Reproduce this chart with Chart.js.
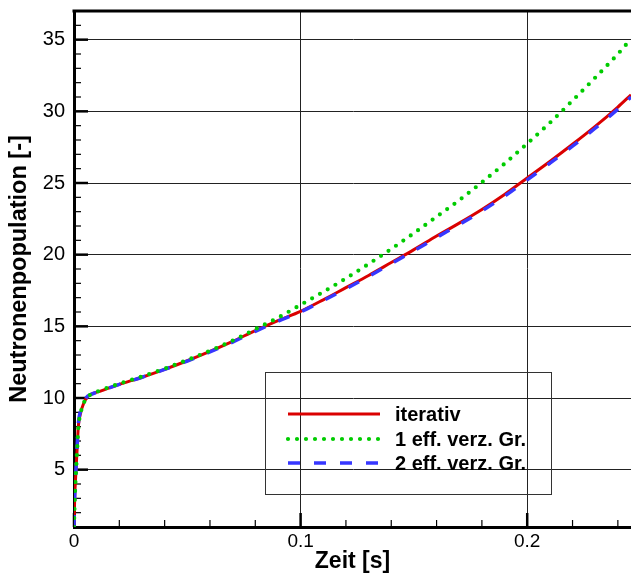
<!DOCTYPE html>
<html>
<head>
<meta charset="utf-8">
<script src="https://cdn.jsdelivr.net/npm/chart.js@4.4.1/dist/chart.umd.min.js"></script>
<style>
  html, body { margin: 0; padding: 0; background: #fff; }
  canvas { display: block; }
</style>
</head>
<body>
<canvas id="chart" width="631" height="573"></canvas>
<script>
// Zeitpunkte [s]
const zeit = [0, 0.0003, 0.0009, 0.0014, 0.0019, 0.003, 0.0042, 0.0055, 0.0075, 0.012,
  0.02, 0.03, 0.04, 0.05, 0.06, 0.07, 0.08, 0.09, 0.1, 0.11, 0.12, 0.13, 0.14, 0.15,
  0.16, 0.17, 0.18, 0.19, 0.2, 0.21, 0.22, 0.23, 0.24, 0.2458]

// Neutronenpopulation je Verfahren
const iterativ = [1.0, 3.0, 5.0, 6.5, 8.0, 9.0, 9.6, 10.0, 10.25, 10.5,
  10.95, 11.45, 12.0, 12.6, 13.25, 13.95, 14.7, 15.4, 16.05, 16.85, 17.7, 18.55, 19.45, 20.35,
  21.3, 22.2, 23.15, 24.2, 25.35, 26.5, 27.7, 28.95, 30.3, 31.15]
const eineGruppe = [1.0, 2.8, 4.9, 6.4, 7.9, 9.0, 9.6, 10.0, 10.25, 10.55,
  11.0, 11.5, 12.05, 12.65, 13.3, 14.0, 14.8, 15.6, 16.5, 17.4, 18.35, 19.35, 20.4, 21.5,
  22.65, 23.8, 25.05, 26.35, 27.75, 29.2, 30.75, 32.35, 34.0, 35.05]
const zweiGruppen = [1.0, 3.1, 5.1, 6.7, 8.2, 9.15, 9.7, 10.05, 10.25, 10.5,
  10.95, 11.45, 12.0, 12.58, 13.22, 13.9, 14.65, 15.35, 16.0, 16.8, 17.62, 18.48, 19.37, 20.27,
  21.2, 22.1, 23.05, 24.08, 25.22, 26.38, 27.57, 28.82, 30.15, 31.0]

const legendLabels = ['iterativ', '1 eff. verz. Gr.', '2 eff. verz. Gr.']

const xTicks = [0, 0.02, 0.04, 0.06, 0.08, 0.1, 0.12, 0.14, 0.16, 0.18, 0.2, 0.22, 0.24]
const yTicks = []
for (let v = 2; v <= 36; v++) yTicks.push(v)

const FONT = "'Liberation Sans', Arial, Helvetica, sans-serif"

function toPoints(ys) {
    return zeit.map((t, i) => ({ x: t, y: ys[i] }))
}
function isMajorX(v) { return Math.round(v * 100) % 10 === 0 }
function isMajorY(v) { return v % 5 === 0 }

// inward tick marks, top frame line and the boxed legend
const frame = {
    id: 'frame',
    beforeDatasetsDraw(chart) {
        const ctx = chart.ctx
        const a = chart.chartArea
        const xs = chart.scales.x, ys = chart.scales.y
        ctx.save()
        ctx.strokeStyle = '#000'
        ctx.lineCap = 'butt'
        xs.ticks.forEach(t => {
            const px = xs.getPixelForValue(t.value)
            const major = isMajorX(t.value)
            ctx.lineWidth = major ? 2.5 : 1.2
            ctx.beginPath()
            ctx.moveTo(px, a.bottom)
            ctx.lineTo(px, a.bottom - (major ? 14 : 7))
            ctx.stroke()
        })
        ys.ticks.forEach(t => {
            const py = ys.getPixelForValue(t.value)
            const major = isMajorY(t.value)
            ctx.lineWidth = major ? 2.5 : 1.2
            ctx.beginPath()
            ctx.moveTo(a.left, py)
            ctx.lineTo(a.left + (major ? 14 : 7), py)
            ctx.stroke()
        })
        ctx.lineWidth = 3
        ctx.beginPath()
        ctx.moveTo(a.left - 1.5, a.top)
        ctx.lineTo(a.right, a.top)
        ctx.stroke()
        ctx.restore()
    },
    afterDatasetsDraw(chart) {
        const ctx = chart.ctx
        ctx.save()
        ctx.strokeStyle = '#333'
        ctx.lineWidth = 1
        ctx.strokeRect(265.5, 372.5, 286, 122)
        const rows = [414, 439, 463]
        ctx.font = 'bold 20px ' + FONT
        ctx.textBaseline = 'middle'
        ctx.fillStyle = '#000'
        chart.data.datasets.forEach((ds, i) => {
            ctx.strokeStyle = ds.borderColor
            ctx.lineWidth = ds.borderWidth
            ctx.lineCap = ds.borderCapStyle || 'butt'
            ctx.setLineDash(ds.borderDash || [])
            ctx.beginPath()
            ctx.moveTo(288, rows[i])
            ctx.lineTo(380, rows[i])
            ctx.stroke()
            ctx.setLineDash([])
            ctx.fillText(legendLabels[i], 395, rows[i] + 1)
        })
        ctx.restore()
    }
}

const ctx = document.getElementById('chart').getContext('2d')
const chart = new Chart(ctx, {
    type: 'line',
    data: {
        datasets: [{
            label: legendLabels[0],
            data: toPoints(iterativ),
            borderColor: 'rgb(218,0,0)',
            borderWidth: 3,
            order: 2
        }, {
            label: legendLabels[1],
            data: toPoints(eineGruppe),
            borderColor: 'rgb(0,204,0)',
            borderWidth: 4.2,
            borderDash: [0, 9],
            borderCapStyle: 'round',
            order: 0
        }, {
            label: legendLabels[2],
            data: toPoints(zweiGruppen),
            borderColor: 'rgb(55,55,255)',
            borderWidth: 3.5,
            borderDash: [12, 14],
            order: 1
        }]
    },
    options: {
        responsive: false,
        animation: false,
        devicePixelRatio: 1,
        layout: { padding: { top: 11, right: 0, left: 0, bottom: 0 } },
        elements: {
            point: { radius: 0 },
            line: { cubicInterpolationMode: 'monotone', fill: false }
        },
        plugins: {
            legend: { display: false },
            tooltip: { enabled: false }
        },
        scales: {
            x: {
                type: 'linear',
                min: 0,
                max: 0.2458,
                afterBuildTicks: s => { s.ticks = xTicks.map(v => ({ value: v })) },
                afterFit: s => { s.height = 46; s.paddingLeft = 0; s.paddingRight = 0 },
                ticks: {
                    autoSkip: false,
                    maxRotation: 0,
                    padding: 3,
                    color: '#000',
                    font: { family: FONT, size: 19 },
                    callback: v => isMajorX(v) ? String(Math.round(v * 10) / 10) : ''
                },
                grid: {
                    drawTicks: false,
                    color: c => (c.tick && isMajorX(c.tick.value)) ? '#222' : 'rgba(0,0,0,0)',
                    lineWidth: 1
                },
                border: { color: '#000', width: 3 },
                title: {
                    display: true,
                    text: 'Zeit [s]',
                    color: '#000',
                    font: { family: FONT, size: 23, weight: 'bold', lineHeight: 1 },
                    padding: { top: 0, bottom: 0 }
                }
            },
            y: {
                type: 'linear',
                min: 1,
                max: 37,
                afterBuildTicks: s => { s.ticks = yTicks.map(v => ({ value: v })) },
                afterFit: s => { s.width = 74; s.paddingTop = 0; s.paddingBottom = 0 },
                ticks: {
                    autoSkip: false,
                    padding: 9,
                    color: '#000',
                    font: { family: FONT, size: 20 },
                    callback: v => isMajorY(v) ? String(v) : ''
                },
                grid: {
                    drawTicks: false,
                    color: c => (c.tick && isMajorY(c.tick.value)) ? '#222' : 'rgba(0,0,0,0)',
                    lineWidth: 1
                },
                border: { color: '#000', width: 3 },
                title: {
                    display: true,
                    text: 'Neutronenpopulation [-]',
                    color: '#000',
                    font: { family: FONT, size: 23.5, weight: 'bold', lineHeight: 1 },
                    padding: { top: 8, bottom: 0 }
                }
            }
        }
    },
    plugins: [frame]
})
</script>
</body>
</html>
